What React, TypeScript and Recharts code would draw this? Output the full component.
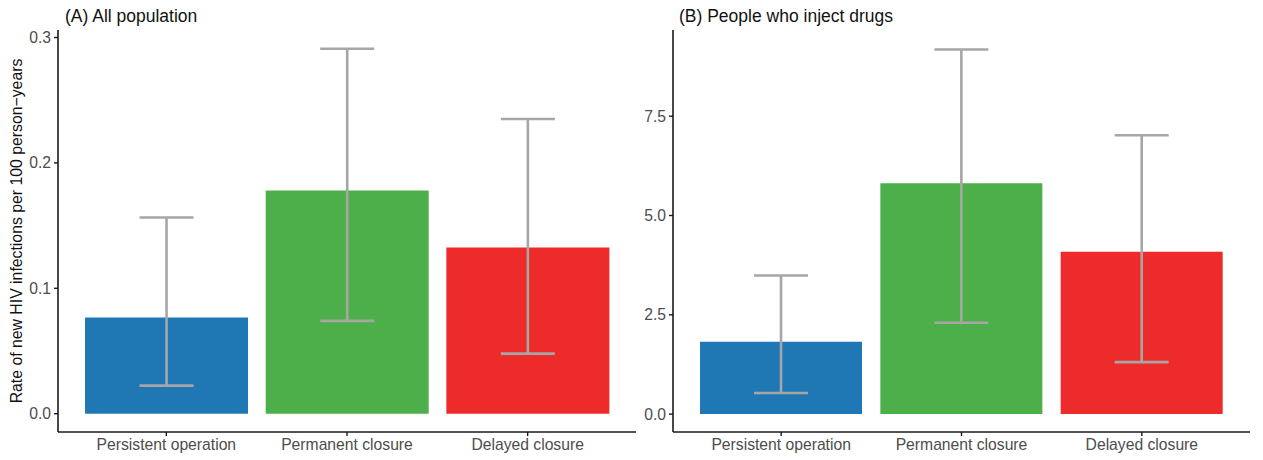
import React from 'react';
import { BarChart, Bar, XAxis, YAxis, ErrorBar, Cell } from 'recharts';

const categories = ['Persistent operation', 'Permanent closure', 'Delayed closure'];
const barColors = ['#1F77B4', '#4DAF4A', '#EE2B2B'];

const popRate = [0.0767, 0.178, 0.1326];
const popLower = [0.0224, 0.074, 0.0479];
const popUpper = [0.1565, 0.291, 0.235];

const pwidRate = [1.82, 5.81, 4.09];
const pwidLower = [0.53, 2.3, 1.31];
const pwidUpper = [3.49, 9.18, 7.02];

const popTicks = [0, 0.1, 0.2, 0.3];
const pwidTicks = [0, 2.5, 5, 7.5];

const popDomain = [-0.0146, 0.306];
const pwidDomain = [-0.45, 9.67];

const build = (rate: number[], lower: number[], upper: number[]) =>
  categories.map((c, i) => ({
    name: c,
    value: rate[i],
    err: [rate[i] - lower[i], upper[i] - rate[i]],
  }));

const popData = build(popRate, popLower, popUpper);
const pwidData = build(pwidRate, pwidLower, pwidUpper);

const FONT = '"Liberation Sans", Arial, sans-serif';
const axisColor = '#1A1A1A';
const tickStyle = { fill: '#4D4D4D', fontSize: 15.7, fontFamily: FONT };

function Panel(props: {
  data: any[];
  width: number;
  yWidth: number;
  marginRight: number;
  domain: number[];
  ticks: number[];
}) {
  const { data, width, yWidth, marginRight, domain, ticks } = props;
  return (
    <BarChart
      width={width}
      height={460}
      data={data}
      margin={{ top: 30, right: marginRight, bottom: 0, left: 0 }}
      barCategoryGap="5%"
    >
      <XAxis
        dataKey="name"
        type="category"
        padding={{ left: 18, right: 18 }}
        axisLine={{ stroke: axisColor, strokeWidth: 1.6 }}
        tickLine={{ stroke: axisColor, strokeWidth: 1.4 }}
        tickSize={4}
        tick={tickStyle}
        tickMargin={3}
        height={28}
        interval={0}
      />
      <YAxis
        type="number"
        domain={domain}
        allowDataOverflow
        ticks={ticks}
        tickFormatter={(v: number) => v.toFixed(1)}
        width={yWidth}
        axisLine={{ stroke: axisColor, strokeWidth: 1.6 }}
        tickLine={{ stroke: axisColor, strokeWidth: 1.4 }}
        tickSize={4}
        tick={tickStyle}
        tickMargin={3}
      />
      <Bar dataKey="value" isAnimationActive={false}>
        {data.map((d, i) => (
          <Cell key={d.name} fill={barColors[i]} />
        ))}
        <ErrorBar dataKey="err" width={27} stroke="#A6A6A6" strokeWidth={2.6} isAnimationActive={false} />
      </Bar>
    </BarChart>
  );
}

export default function App() {
  return (
    <div style={{ position: 'absolute', left: 0, top: 0, width: 1263, height: 460, background: '#fff', fontFamily: FONT }}>
      <div style={{ position: 'absolute', left: 0, top: 0 }}>
        <Panel data={popData} width={640} yWidth={58} marginRight={4} domain={popDomain} ticks={popTicks} />
      </div>
      <div style={{ position: 'absolute', left: 640, top: 0 }}>
        <Panel data={pwidData} width={623} yWidth={33} marginRight={13} domain={pwidDomain} ticks={pwidTicks} />
      </div>
      <div style={{ position: 'absolute', left: 65, top: 6, fontSize: 17.5, lineHeight: '20px', color: '#111', whiteSpace: 'nowrap' }}>
        (A) All population
      </div>
      <div style={{ position: 'absolute', left: 679, top: 6, fontSize: 17.5, lineHeight: '20px', color: '#111', whiteSpace: 'nowrap' }}>
        (B) People who inject drugs
      </div>
      <div
        style={{
          position: 'absolute',
          left: 17,
          top: 231,
          fontSize: 15.8,
          lineHeight: '18px',
          color: '#111',
          whiteSpace: 'nowrap',
          transform: 'translate(-50%, -50%) rotate(-90deg)',
        }}
      >
        Rate of new HIV infections per 100 person−years
      </div>
    </div>
  );
}
